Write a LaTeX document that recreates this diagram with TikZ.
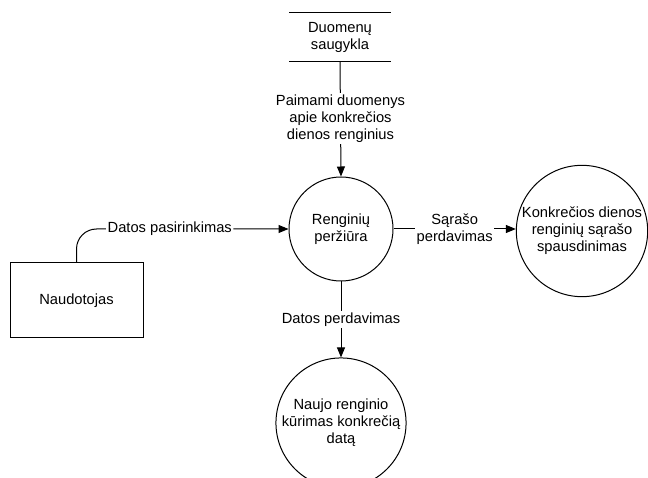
\documentclass[tikz,border=0pt]{standalone}
\usepackage{fontspec}
\setmainfont{Liberation Sans}
\usetikzlibrary{arrows.meta}
\begin{document}
\begin{tikzpicture}[x=1pt,y=-1pt,
  every node/.style={font=\fontsize{14.7}{17}\selectfont, align=center, inner sep=1pt},
  proc/.style={circle, draw, line width=1pt},
  ext/.style={rectangle, draw, line width=1pt},
  flow/.style={line width=1pt, -{Triangle[length=10pt,width=8pt]}},
  lbl/.style={fill=white, inner sep=1.5pt}]
  \useasboundingbox (0,0) rectangle (648,478);
  \clip (0,0) rectangle (648,478);

  % data store: text between two horizontal rules
  \node (store) [minimum width=101, minimum height=48, inner sep=0] at (340,37) {Duomenų\\saugykla};
  \draw[line width=1pt] (store.north west) -- (store.north east)
                        (store.south west) -- (store.south east);

  % processes
  \node (view)   [proc, minimum size=104] at (341,229) {Renginių\\peržiūra};
  \node (print)  [proc, minimum size=130] at (582,231) {Konkrečios dienos\\renginių sąrašo\\spausdinimas};
  \node (create) [proc, minimum size=126] at (341,423) {Naujo renginio\\kūrimas konkrečią\\datą};

  % external entity
  \node (user) [ext, minimum width=133, minimum height=75] at (76.5,300.5) {Naudotojas};

  % data flows
  \draw[flow] (store.south) -- node[lbl] {Paimami duomenys\\apie konkrečios\\dienos renginius} (view.north);
  \draw[flow, rounded corners=20pt] (user.north) |- node[lbl, pos=0.72] {Datos pasirinkimas} (view.west);
  \draw[flow] (view.east) -- node[lbl] {Sąrašo\\perdavimas} (view.east -| print.west);
  \draw[flow] (view.south) -- node[lbl] {Datos perdavimas} (create.north);
\end{tikzpicture}
\end{document}
